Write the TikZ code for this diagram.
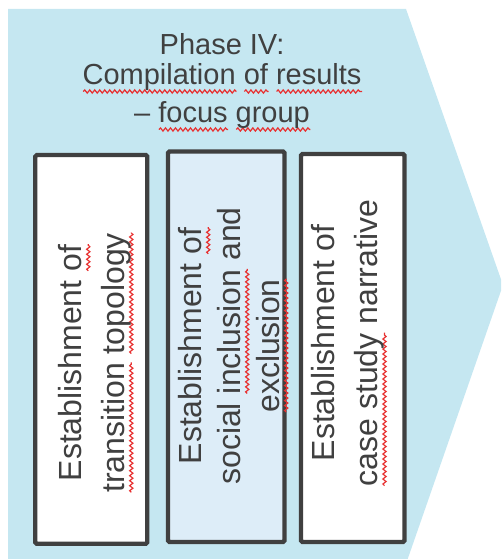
\documentclass[tikz,border=0pt]{standalone}
\usepackage{fontspec}
\setmainfont{Liberation Sans}
\usetikzlibrary{decorations.pathmorphing}

\definecolor{chevronblue}{RGB}{197,231,241}
\definecolor{paleblue}{RGB}{221,237,248}
\definecolor{ink}{RGB}{64,64,64}
\definecolor{spellred}{RGB}{232,48,48}

\tikzset{
  spellmark/.style={draw=spellred, line width=1.2pt, decorate,
    decoration={snake, amplitude=1.6pt, segment length=5pt}}
}

% wavy red underline below a word, not changing the line's size
\newlength\squigw
\newcommand\squig[1]{\settowidth\squigw{#1}\leavevmode
  \rlap{\smash{\tikz[baseline=0pt]\draw[spellmark] (0pt,-6.5pt) -- (\squigw,-6.5pt);}}#1}

\begin{document}
\begin{tikzpicture}[x=1pt, y=-1pt,
  stepframe/.style={draw=ink, line width=4.3pt, rounded corners=1.5pt,
    inner sep=0pt, outer sep=0pt},
  vtext/.style={rotate=90, align=center, text=ink, inner sep=0pt,
    font=\fontsize{32}{43}\selectfont}]
  \useasboundingbox (0,0) rectangle (501,559);
  \clip (0,0) rectangle (501,559);

  % phase chevron
  \fill[chevronblue] (8,9) -- (406,9) -- (503,285) -- (407,561) -- (8,561) -- cycle;

  % heading
  \node[text=ink, align=center, inner sep=0pt, font=\fontsize{29}{30}\selectfont]
    (title) at (222,81.5)
    {Phase IV:\\\squig{Compilation} \squig{of} \squig{results}\\[8pt]– \squig{focus} \squig{group}};

  % step boxes
  \node[stepframe, fill=white, minimum width=112pt, minimum height=388.8pt]
    (b1) at (91.3,349.4) {};
  \node[stepframe, fill=paleblue, minimum width=116.5pt, minimum height=390.5pt]
    (b2) at (226.25,346.75) {};
  \node[stepframe, fill=white, minimum width=103.5pt, minimum height=388pt]
    (b3) at (352.75,348) {};

  % step labels, reading upwards
  \node[vtext] (t1) at (95,363)
    {Establishment \squig{of}\\\squig{transition} \squig{topology}};
  \node[vtext, font=\fontsize{32}{39}\selectfont] (t2) at (229.3,346)
    {Establishment \squig{of}\\social \squig{inclusion} and\\\squig{exclusion}};
  \node[vtext] (t3) at (348.2,343)
    {Establishment of\\\squig{case study} narrative};
\end{tikzpicture}
\end{document}
